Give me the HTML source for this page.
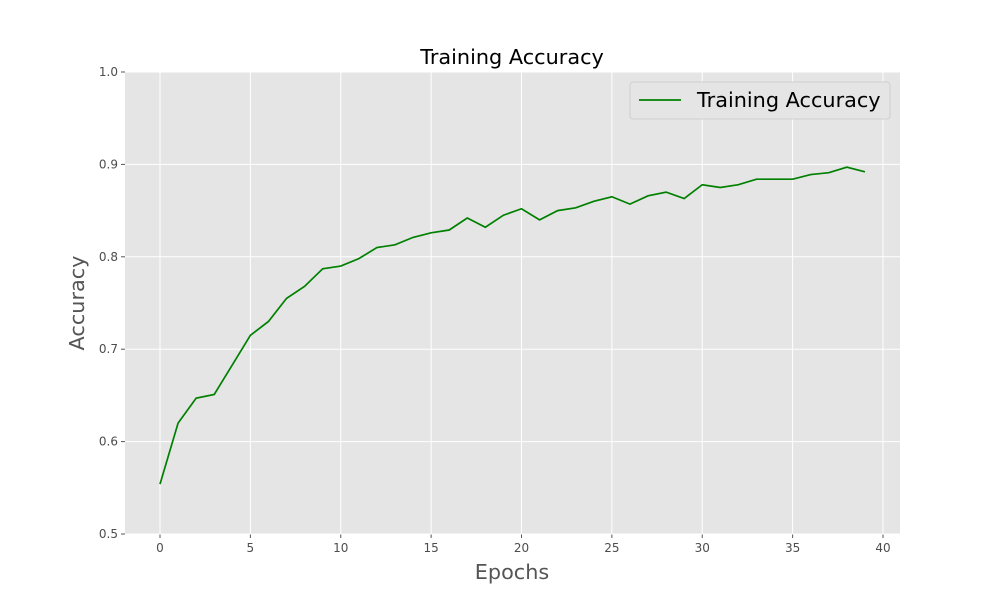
<!DOCTYPE html>
<html><head><meta charset="utf-8"><style>
body{margin:0;background:#fff;font-family:"DejaVu Sans","Liberation Sans",sans-serif}
svg text{font-family:"DejaVu Sans","Liberation Sans",sans-serif}
</style></head><body>
<svg id="c" width="1000" height="600"></svg>
<script>
const epochs=[];for(let i=0;i<40;i++)epochs.push(i);
const accuracy=[0.554,0.620,0.647,0.651,0.683,0.715,0.730,0.755,0.768,0.787,0.790,0.798,0.810,0.813,0.821,0.826,0.829,0.842,0.832,0.845,0.852,0.840,0.850,0.853,0.860,0.865,0.857,0.866,0.870,0.863,0.878,0.875,0.878,0.884,0.884,0.884,0.889,0.891,0.897,0.892];
const xTicks=[0,5,10,15,20,25,30,35,40];
const yTicks=[0.5,0.6,0.7,0.8,0.9,1.0];
const L=125,R=900,T=72,B=534;
const sx=v=>160+(v-0)*(883-160)/40;
const sy=v=>B-(v-0.5)*(B-T)/0.5;
const svg=document.getElementById('c');const NS='http://www.w3.org/2000/svg';
function mk(t,a,p){const e=document.createElementNS(NS,t);for(const k in a)e.setAttribute(k,a[k]);(p||svg).appendChild(e);return e;}
let bg=mk('rect',{x:L,y:T,width:R-L,height:B-T,fill:'#e5e5e5'});


xTicks.forEach(v=>{const x=sx(v);
let g=mk('line',{x1:x,x2:x,y1:T,y2:B,stroke:'#fff','stroke-width':1});


mk('line',{x1:x,x2:x,y1:B,y2:B+4,stroke:'#555'});
let t=mk('text',{x:x,y:B+18,'text-anchor':'middle','font-size':12,fill:'#4d4d4d'});t.textContent=v;

});
yTicks.forEach(v=>{const y=sy(v);
let g=mk('line',{x1:L,x2:R,y1:y,y2:y,stroke:'#fff','stroke-width':1});


mk('line',{x1:L-4,x2:L,y1:y,y2:y,stroke:'#555'});
let t=mk('text',{x:L-7,y:y+4,'text-anchor':'end','font-size':12,fill:'#4d4d4d'});t.textContent=v.toFixed(1);

});
let pl=mk('polyline',{points:epochs.map((e,i)=>sx(e)+','+sy(accuracy[i])).join(' '),fill:'none',stroke:'#008000','stroke-width':1.7});


let tt=mk('text',{x:512,y:64,'text-anchor':'middle','font-size':20.8,fill:'#000'});tt.textContent='Training Accuracy';


let xl=mk('text',{x:512,y:579,'text-anchor':'middle','font-size':20.8,fill:'#555'});xl.textContent='Epochs';


let yl=mk('text',{x:0,y:0,'text-anchor':'middle','font-size':20.8,fill:'#555',transform:'translate(84,303) rotate(-90)'});yl.textContent='Accuracy';


let lg=mk('g',{});


mk('rect',{x:630,y:82,width:260,height:37,rx:3,fill:'#e5e5e5',stroke:'#d0d0d0'},lg);
mk('line',{x1:639,x2:681,y1:100,y2:100,stroke:'#008000','stroke-width':1.8},lg);
let lt=mk('text',{x:697,y:107,'font-size':20.8,fill:'#000'},lg);lt.textContent='Training Accuracy';


</script></body></html>
